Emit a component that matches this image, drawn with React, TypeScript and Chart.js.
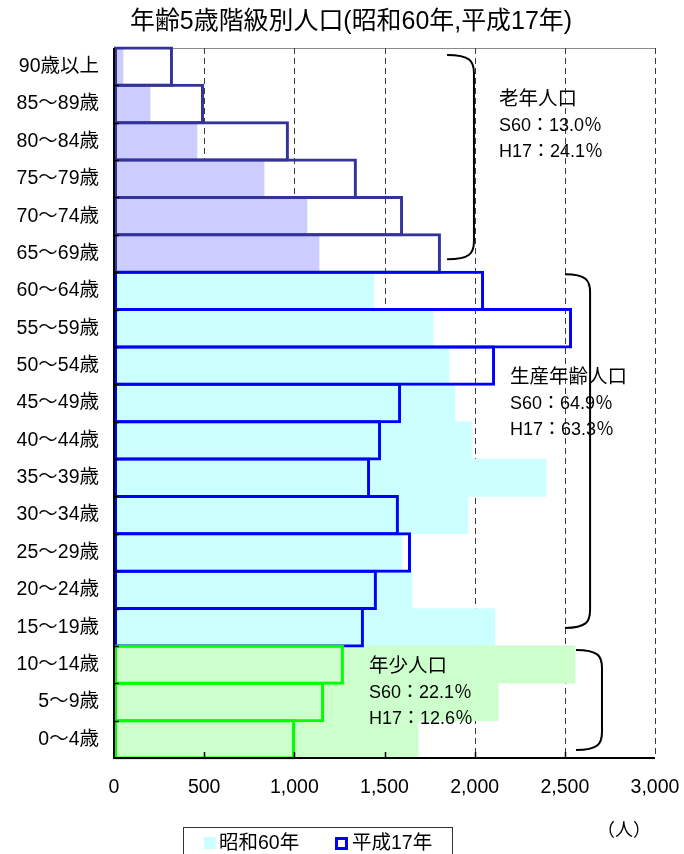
import React, { useEffect, useRef } from "react";
import { Chart, registerables } from "chart.js";
Chart.register(...registerables);

const titleText = "年齢5歳階級別人口(昭和60年,平成17年)";
const ageLabels = [
  "90歳以上", "85～89歳", "80～84歳", "75～79歳", "70～74歳", "65～69歳",
  "60～64歳", "55～59歳", "50～54歳", "45～49歳", "40～44歳", "35～39歳",
  "30～34歳", "25～29歳", "20～24歳", "15～19歳", "10～14歳", "5～9歳", "0～4歳",
];
const s60Values = [50, 200, 460, 832, 1070, 1137, 1442, 1769, 1858, 1891, 1985, 2396, 1963, 1597, 1653, 2113, 2557, 2130, 1686];
const h17Values = [327, 499, 970, 1347, 1603, 1813, 2052, 2540, 2113, 1592, 1481, 1420, 1580, 1647, 1458, 1386, 1275, 1165, 1004];
const seriesNames = ["昭和60年", "平成17年"];
const xTickValues = [0, 500, 1000, 1500, 2000, 2500, 3000];
const unitLabel = "（人）";

// age groups: index ranges
const oldCount = 6;
const workCount = 10;
const groupFill = ["#CCCCFF", "#CCFFFF", "#CCFFCC"];
const groupLine = ["#333399", "#0000FF", "#00FF00"];
const groupIndex = (i: number) => (i < oldCount ? 0 : i < oldCount + workCount ? 1 : 2);

const noteOld = ["老年人口", "S60：13.0％", "H17：24.1％"];
const noteWork = ["生産年齢人口", "S60：64.9％", "H17：63.3％"];
const noteYoung = ["年少人口", "S60：22.1％", "H17：12.6％"];

const FONT = "'Liberation Sans', 'Noto Sans CJK JP', sans-serif";

const decor = {
  id: "decor",
  beforeDatasetsDraw(chart: any) {
    const { ctx, chartArea: a, scales } = chart;
    const x = scales.x;
    ctx.save();
    ctx.strokeStyle = "#8a8a8a";
    ctx.lineWidth = 1;
    ctx.beginPath();
    ctx.moveTo(a.left, a.top + 0.5);
    ctx.lineTo(a.right, a.top + 0.5);
    ctx.stroke();
    ctx.setLineDash([6, 4]);
    ctx.strokeStyle = "#3a3a3a";
    for (const v of xTickValues) {
      if (v === 0) continue;
      const px = Math.round(x.getPixelForValue(v)) + 0.5;
      ctx.beginPath();
      ctx.moveTo(px, a.top);
      ctx.lineTo(px, a.bottom);
      ctx.stroke();
    }
    ctx.restore();
  },
  afterDatasetsDraw(chart: any) {
    const { ctx, chartArea: a, scales } = chart;
    const x = scales.x;
    const y = scales.y;
    ctx.save();
    // axes
    ctx.strokeStyle = "#000";
    ctx.lineWidth = 2;
    ctx.beginPath();
    ctx.moveTo(a.left, a.top);
    ctx.lineTo(a.left, a.bottom);
    ctx.lineTo(a.right, a.bottom);
    ctx.stroke();
    // tick marks
    ctx.lineWidth = 1.5;
    const catH = (a.bottom - a.top) / ageLabels.length;
    for (let i = 1; i < ageLabels.length; i++) {
      const py = Math.round(a.top + i * catH) + 0.5;
      ctx.beginPath();
      ctx.moveTo(a.left, py);
      ctx.lineTo(a.left + 5, py);
      ctx.stroke();
    }
    for (const v of xTickValues) {
      if (v === 0 || v === 3000) continue;
      const px = Math.round(x.getPixelForValue(v)) + 0.5;
      ctx.beginPath();
      ctx.moveTo(px, a.bottom);
      ctx.lineTo(px, a.bottom - 6);
      ctx.stroke();
    }
    // brackets
    const bracket = (v0: number, v1: number, top: number, bot: number) => {
      const x0 = x.getPixelForValue(v0);
      const x1 = x.getPixelForValue(v1);
      const r = 18;
      ctx.strokeStyle = "#000";
      ctx.lineWidth = 2;
      ctx.beginPath();
      ctx.moveTo(x0, top);
      ctx.bezierCurveTo(x1 - 4, top, x1, top + 6, x1, top + r);
      ctx.lineTo(x1, bot - r);
      ctx.bezierCurveTo(x1, bot - 6, x1 - 4, bot, x0, bot);
      ctx.stroke();
    };
    const yTop = (i: number) => y.getPixelForValue(i) - catH / 2;
    const yBot = (i: number) => y.getPixelForValue(i) + catH / 2;
    bracket(1847, 1996, yTop(0) + 7, yBot(oldCount - 1) - 13);
    bracket(2501, 2640, yTop(oldCount) + 2, yBot(oldCount + workCount - 1) - 18);
    bracket(2562, 2706, yTop(oldCount + workCount) + 4, yBot(ageLabels.length - 1) - 8);
    // notes
    ctx.fillStyle = "#000";
    ctx.textBaseline = "middle";
    ctx.textAlign = "left";
    const note = (lines: string[], v: number, y0: number) => {
      const px = x.getPixelForValue(v);
      lines.forEach((t, k) => {
        ctx.font = k === 0 ? `19.5px ${FONT}` : `18px ${FONT}`;
        ctx.fillText(t, px, y0 + k * 26);
      });
    };
    note(noteOld, 2135, 100);
    note(noteWork, 2196, 378);
    note(noteYoung, 1414, 667);
    // title
    ctx.textAlign = "center";
    ctx.font = `25px ${FONT}`;
    ctx.fillText(titleText, 351, 22, 442);
    // unit
    ctx.font = `18px ${FONT}`;
    ctx.fillText(unitLabel, 624, 831);
    // legend
    ctx.strokeStyle = "#333";
    ctx.lineWidth = 1;
    ctx.strokeRect(183.5, 827.5, 269, 40);
    ctx.fillStyle = groupFill[1];
    ctx.fillRect(204, 837, 12, 12);
    ctx.strokeStyle = groupLine[1];
    ctx.lineWidth = 3;
    ctx.strokeRect(336.5, 838.5, 10, 10);
    ctx.fillStyle = "#000";
    ctx.textAlign = "left";
    ctx.font = `19.5px ${FONT}`;
    ctx.fillText(seriesNames[0], 219, 844);
    ctx.fillText(seriesNames[1], 352, 844);
    ctx.restore();
  },
};

export default function App() {
  const ref = useRef<HTMLCanvasElement>(null);
  useEffect(() => {
    if (!ref.current) return;
    const chart = new Chart(ref.current, {
      type: "bar",
      data: {
        labels: ageLabels,
        datasets: [
          {
            label: seriesNames[0],
            data: s60Values,
            backgroundColor: s60Values.map((_, i) => groupFill[groupIndex(i)]),
            borderWidth: 0,
            barPercentage: 1,
            categoryPercentage: 1,
            order: 2,
          },
          {
            label: seriesNames[1],
            data: h17Values,
            backgroundColor: "rgba(0,0,0,0)",
            borderColor: h17Values.map((_, i) => groupLine[groupIndex(i)]),
            borderWidth: 3,
            borderSkipped: false,
            barPercentage: 1.08,
            categoryPercentage: 1,
            clip: false,
            order: 1,
          } as any,
        ],
      },
      options: {
        indexAxis: "y",
        animation: false,
        responsive: false,
        devicePixelRatio: 1,
        datasets: { bar: { grouped: false } },
        layout: { padding: { top: 48, right: 29, bottom: 0, left: 0 } },
        plugins: { legend: { display: false }, tooltip: { enabled: false }, title: { display: false } },
        scales: {
          x: {
            type: "linear",
            min: 0,
            max: 3000,
            afterBuildTicks: (s: any) => {
              s.ticks = xTickValues.map((v) => ({ value: v }));
            },
            afterFit: (s: any) => {
              s.height = 96;
              s.paddingLeft = 0;
              s.paddingRight = 0;
            },
            grid: { display: false, drawTicks: false },
            border: { display: false },
            ticks: {
              color: "#000",
              font: { family: FONT, size: 19.5 },
              padding: 18,
              maxRotation: 0,
              callback: (v: any) => Number(v).toLocaleString("en-US"),
            },
          },
          y: {
            type: "category",
            afterFit: (s: any) => {
              s.width = 114;
              s.paddingTop = 0;
              s.paddingBottom = 0;
            },
            grid: { display: false, drawTicks: false },
            border: { display: false },
            ticks: {
              color: "#000",
              font: { family: FONT, size: 19.5 },
              padding: 15,
              autoSkip: false,
            },
          },
        },
      },
      plugins: [decor],
    } as any);
    return () => chart.destroy();
  }, []);
  return (
    <div style={{ position: "fixed", left: 0, top: 0, width: 684, height: 854, background: "#fff", overflow: "hidden" }}>
      <canvas ref={ref} width={684} height={854} style={{ width: 684, height: 854, display: "block" }} />
    </div>
  );
}
